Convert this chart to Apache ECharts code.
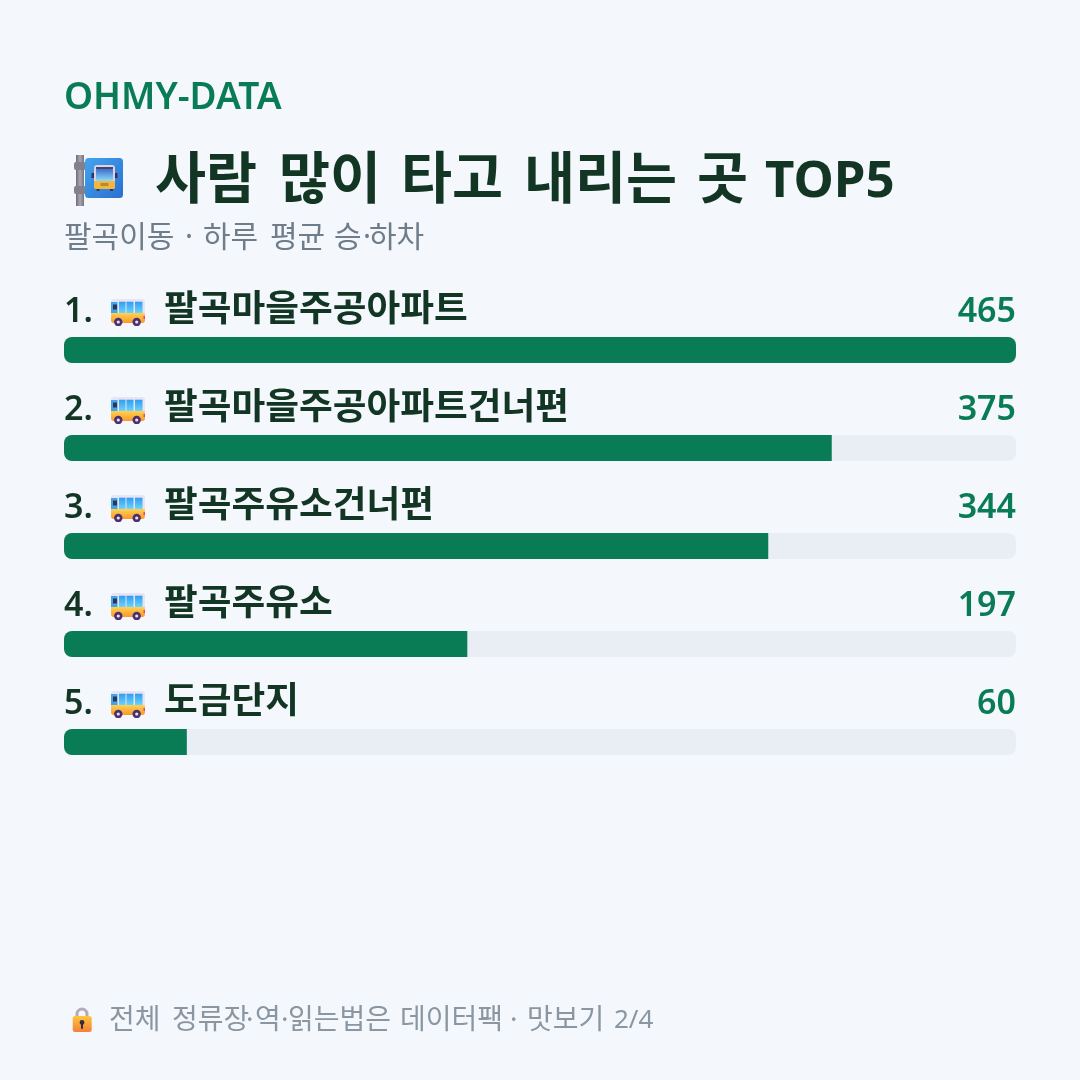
<!DOCTYPE html>
<html lang="ko">
<head>
<meta charset="utf-8">
<style>html,body{margin:0;padding:0;background:#f4f7fc}#chart{width:1080px;height:1080px}</style>
<script src="https://cdn.jsdelivr.net/npm/echarts@6/dist/echarts.min.js"></script>
</head>
<body>
<div id="chart"></div>
<script>
// Average daily boardings and alightings per stop
const stopNames = ['팔곡마을주공아파트', '팔곡마을주공아파트건너편', '팔곡주유소건너편', '팔곡주유소', '도금단지'];
const riders = [465, 375, 344, 197, 60];
const ranks = ['1.', '2.', '3.', '4.', '5.'];
const brand = 'OHMY-DATA';
const titleWords = ['사람', '많이', '타고', '내리는', '곳', 'TOP5'];
const titleWordX = [155, 279, 401, 524, 697, 765];
const subtitle = ['팔곡이동', '·', '하루', '평균', '승', '·', '하차'];
const subtitleX = [64, 185, 203, 270, 334, 363, 369];
const footer = ['전체', '정류장', '·', '역', '·', '읽는법은', '데이터팩', '·', '맛보기', '2/4'];
const footerX = [109, 172, 246, 255, 281, 288, 400, 510, 527, 614];

const GREEN = '#0a7c55', DARK = '#123524';
const FONT = '"Noto Sans","Noto Sans CJK KR",sans-serif';
const maxValue = Math.max(...riders);

const svgUrl = (w, h, body) => 'data:image/svg+xml;charset=utf-8,' + encodeURIComponent(
  `<svg xmlns="http://www.w3.org/2000/svg" width="${w}" height="${h}" viewBox="0 0 ${w} ${h}">${body}</svg>`);

// Small side-on bus icon
const busIcon = svgUrl(36, 28, `
  <defs>
    <linearGradient id="g" x1="0" y1="0" x2="0" y2="1"><stop offset="0" stop-color="#ffd24f"/><stop offset="1" stop-color="#f9982e"/></linearGradient>
    <linearGradient id="w" x1="0" y1="0" x2="0" y2="1"><stop offset="0" stop-color="#2f9df0"/><stop offset="1" stop-color="#6ad4fc"/></linearGradient>
  </defs>
  <rect x="1" y="1" width="34" height="24" rx="3" fill="#eae3f3"/>
  <path d="M1 15H35V22a3 3 0 0 1-3 3H4a3 3 0 0 1-3-3Z" fill="url(#g)"/>
  <rect x="1" y="4" width="6.5" height="11" fill="#3fa6ee"/>
  <rect x="3" y="6.5" width="4" height="5" fill="#37324f"/>
  <rect x="9" y="3.7" width="6.5" height="11.3" fill="url(#w)"/>
  <rect x="16.5" y="3.7" width="7" height="11.3" fill="url(#w)"/>
  <rect x="25" y="3.7" width="7.5" height="11.3" fill="url(#w)"/>
  <rect x="33.5" y="18" width="1.5" height="3" fill="#e8408a"/>
  <circle cx="8.3" cy="24" r="4.2" fill="#4b2f6e"/><circle cx="8.3" cy="24" r="1.6" fill="#e9e2f2"/>
  <circle cx="26.7" cy="24" r="4.2" fill="#4b2f6e"/><circle cx="26.7" cy="24" r="1.6" fill="#e9e2f2"/>`);

// Bus-stop sign on its pole
const stopIcon = svgUrl(52, 52, `
  <defs>
    <linearGradient id="b" x1="0" y1="0" x2="1" y2="1"><stop offset="0" stop-color="#43a5ee"/><stop offset="1" stop-color="#2a6fd0"/></linearGradient>
    <linearGradient id="p" x1="0" y1="0" x2="1" y2="0"><stop offset="0" stop-color="#6f6b78"/><stop offset="0.5" stop-color="#aaa7b2"/><stop offset="1" stop-color="#77737f"/></linearGradient>
    <linearGradient id="s" x1="0" y1="0" x2="0" y2="1"><stop offset="0" stop-color="#3c6fd0"/><stop offset="1" stop-color="#8fdcfb"/></linearGradient>
  </defs>
  <rect x="4" y="0" width="8" height="51" fill="url(#p)"/>
  <rect x="2" y="7" width="12" height="8" rx="2" fill="#83808c"/>
  <rect x="2" y="31" width="12" height="8" rx="2" fill="#83808c"/>
  <rect x="13" y="3" width="38" height="40" rx="3.5" fill="url(#b)"/>
  <rect x="19.5" y="18" width="2.5" height="5" fill="#3a3350"/><rect x="43" y="18" width="2.5" height="5" fill="#3a3350"/>
  <rect x="24.5" y="33" width="3" height="3" fill="#3a3350"/><rect x="38" y="33" width="3" height="3" fill="#3a3350"/>
  <rect x="22" y="10" width="21" height="24" rx="3" fill="#d8d2ea"/>
  <rect x="24" y="14" width="17" height="12" rx="1" fill="url(#s)"/>
  <rect x="24" y="12" width="17" height="2" fill="#4d4360"/>
  <path d="M22 26h21v6a2 2 0 0 1-2 2h-17a2 2 0 0 1-2-2Z" fill="#f2b73c"/>
  <rect x="28.5" y="28" width="8" height="3" fill="#b98a2c"/>`);

// Padlock next to the footer line
const lockIcon = svgUrl(24, 28, `
  <defs><linearGradient id="o" x1="0" y1="0" x2="0" y2="1"><stop offset="0" stop-color="#ffc53d"/><stop offset="1" stop-color="#f5803a"/></linearGradient></defs>
  <path d="M7 13V8a5 5 0 0 1 10 0v5" fill="none" stroke="#b4aab8" stroke-width="3"/>
  <rect x="2.7" y="10" width="19" height="16" rx="2.5" fill="url(#o)"/>
  <circle cx="12" cy="16.5" r="2.4" fill="#3b2a3f"/><rect x="11" y="17" width="2" height="6" rx="1" fill="#3b2a3f"/>`);

const textEl = (x, y, text, font, fill) => ({
  type: 'text', x, y, silent: true,
  style: { text, font, fill, verticalAlign: 'middle' }
});

const chart = echarts.init(document.getElementById('chart'), null, { renderer: 'canvas' });
chart.setOption({
  animation: false,
  backgroundColor: '#f4f7fc',
  grid: { left: 64, right: 64, top: 301, height: 490 },
  xAxis: { type: 'value', min: 0, max: maxValue, show: false },
  yAxis: { type: 'category', data: stopNames, inverse: true, show: false },
  graphic: [
    textEl(64, 98, brand, `600 37px ${FONT}`, GREEN),
    { type: 'image', x: 72, y: 155, silent: true, style: { image: stopIcon, width: 52, height: 52 } },
    ...titleWords.map((w, i) => textEl(titleWordX[i], 182,
      w, `700 ${w === 'TOP5' ? 51 : 55.5}px ${FONT}`, DARK)),
    ...subtitle.map((w, i) => textEl(subtitleX[i], 238, w, `400 30px ${FONT}`, '#6f7d8a')),
    { type: 'image', x: 70, y: 1006, silent: true, style: { image: lockIcon, width: 24, height: 28 } },
    ...footer.map((w, i) => textEl(footerX[i], 1021, w, `400 ${w === '2/4' ? 26 : 28}px ${FONT}`, '#8a97a3'))
  ],
  series: [
    {
      // Full-width track behind each bar; it also carries the value at the right end
      type: 'bar', data: riders.map(() => maxValue), barWidth: 26, barGap: '-100%', silent: true,
      itemStyle: { color: '#e9eef5', borderRadius: 8 },
      label: {
        show: true, position: 'insideRight', distance: 0, offset: [0, -38],
        formatter: p => String(riders[p.dataIndex]),
        fontFamily: FONT, fontSize: 34, fontWeight: 600, color: GREEN
      }
    },
    {
      type: 'bar', barWidth: 26, silent: true,
      data: riders.map(v => ({
        value: v,
        itemStyle: { color: GREEN, borderRadius: v === maxValue ? 8 : [8, 0, 0, 8] }
      }))
    },
    {
      // Rank, bus icon and stop name above each bar
      type: 'custom', silent: true, coordinateSystem: 'cartesian2d', z: 5,
      data: stopNames.map((_, i) => [0, i]),
      encode: { x: 0, y: 1 },
      renderItem: (params, api) => {
        const [x, yc] = api.coord([0, api.value(1)]);
        const i = params.dataIndex;
        const label = (dx, dy, text, size) => ({
          type: 'text', x: x + dx, y: yc + dy,
          style: { text, fontFamily: FONT, fontSize: size, fontWeight: 600, fill: DARK, verticalAlign: 'middle', align: 'left' }
        });
        return {
          type: 'group',
          children: [
            label(0, -38, ranks[i], 34),
            { type: 'image', x: x + 46, y: yc - 52, style: { image: busIcon, width: 36, height: 28 } },
            label(100, -39, stopNames[i], 36.7)
          ]
        };
      }
    }
  ]
});
</script>
</body>
</html>
